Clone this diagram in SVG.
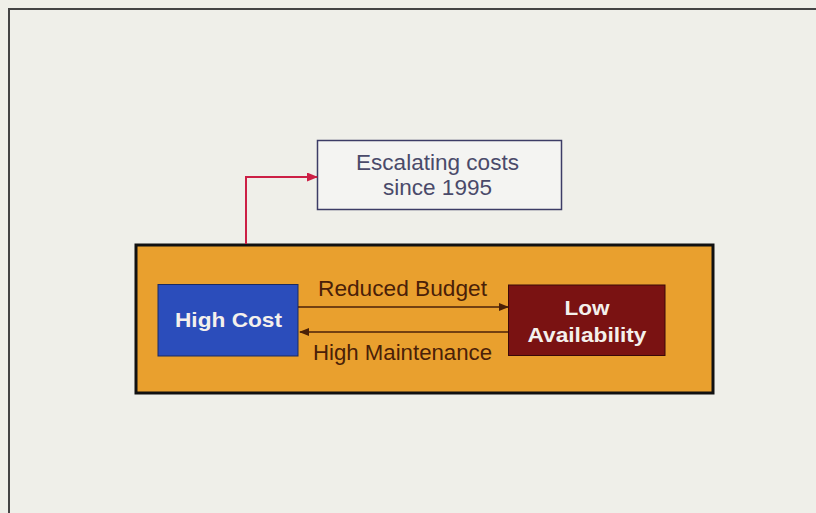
<svg xmlns="http://www.w3.org/2000/svg" width="816" height="513" viewBox="0 0 816 513">
<defs>
<marker id="ar" markerWidth="11" markerHeight="9" refX="10" refY="4.5" orient="auto" markerUnits="userSpaceOnUse"><path d="M0,0 L11,4.5 L0,9 Z" fill="#cc1f45"/></marker>
<marker id="ab" markerWidth="10" markerHeight="8" refX="9" refY="4" orient="auto" markerUnits="userSpaceOnUse"><path d="M0,0 L10,4 L0,8 Z" fill="#4a2008"/></marker>
<style>
.lbl{font-family:"Liberation Sans",Arial,sans-serif;font-size:21.5px;fill:#4a2008;text-anchor:middle}
.wt{font-family:"Liberation Sans",Arial,sans-serif;font-size:21px;font-weight:bold;fill:#f4f0ec;text-anchor:middle}
.esc{font-family:"Liberation Sans",Arial,sans-serif;font-size:21.5px;fill:#4a4a6a;text-anchor:middle}
</style>
</defs>
<rect x="0" y="0" width="816" height="513" fill="#efefe9"/>
<path d="M9,513 V9 H816" fill="none" stroke="#444" stroke-width="2"/>
<g id="container">
<rect x="136" y="245" width="577" height="148" fill="#e9a02e" stroke="#111" stroke-width="3"/>
</g>
<g id="escalating">
<rect x="317.5" y="140.5" width="244" height="69" fill="#f4f4f2" stroke="#3c3c66" stroke-width="1.5"/>
<text class="esc" x="437.5" y="170" textLength="163" lengthAdjust="spacingAndGlyphs">Escalating costs</text>
<text class="esc" x="437.5" y="195" textLength="109" lengthAdjust="spacingAndGlyphs">since 1995</text>
</g>
<g id="highcost">
<rect x="158" y="284.5" width="140" height="71.5" fill="#2b4dbb" stroke="#1a2a60" stroke-width="1"/>
<text class="wt" x="228.5" y="327" textLength="107" lengthAdjust="spacingAndGlyphs">High Cost</text>
</g>
<g id="lowavail">
<rect x="508.5" y="285" width="156.5" height="70.5" fill="#7a1212" stroke="#3a0808" stroke-width="1"/>
<text class="wt" x="587" y="315" textLength="45" lengthAdjust="spacingAndGlyphs">Low</text>
<text class="wt" x="587" y="342" textLength="119" lengthAdjust="spacingAndGlyphs">Availability</text>
</g>
<g id="connectors">
<path d="M246,244 V177 H317" fill="none" stroke="#cc1f45" stroke-width="2" marker-end="url(#ar)"/>
<line x1="298" y1="307" x2="508" y2="307" stroke="#4a2008" stroke-width="1.5" marker-end="url(#ab)"/>
<line x1="508" y1="332" x2="300" y2="332" stroke="#4a2008" stroke-width="1.5" marker-end="url(#ab)"/>
<text class="lbl" x="402.5" y="296" textLength="169" lengthAdjust="spacingAndGlyphs">Reduced Budget</text>
<text class="lbl" x="402.5" y="360" textLength="179" lengthAdjust="spacingAndGlyphs">High Maintenance</text>
</g>
</svg>
